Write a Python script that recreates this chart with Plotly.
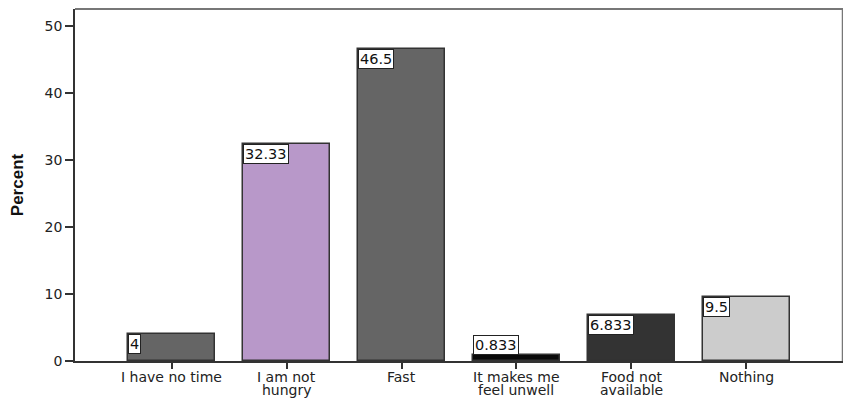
import plotly.graph_objects as go

categories = ["I have no time", "I am not<br>hungry", "Fast", "It makes me<br>feel unwell", "Food not<br>available", "Nothing"]
values = [4, 32.33, 46.5, 0.833, 6.833, 9.5]
labels = ["4", "32.33", "46.5", "0.833", "6.833", "9.5"]
colors = ["#656565", "#b898c9", "#656565", "#0a0a0a", "#333333", "#cccccc"]
y_ticks = [0, 10, 20, 30, 40, 50]

bar_width = 0.75
x_idx = list(range(len(categories)))

fig = go.Figure()
fig.add_trace(go.Bar(
    x=x_idx, y=values, width=bar_width,
    marker=dict(color=colors, line=dict(color="#333333", width=1.5)),
    hoverinfo="skip",
))

# value labels (white boxes at the top-left corner of each bar)
for i, (v, lab) in enumerate(zip(values, labels)):
    inside = v > 3
    fig.add_annotation(
        x=i - bar_width / 2, y=v, xref="x", yref="y",
        text=lab, showarrow=False,
        xanchor="left", yanchor="top" if inside else "bottom",
        bgcolor="white", bordercolor="#222222", borderwidth=1, borderpad=1,
        font=dict(family="DejaVu Sans", size=14.5, color="#111111"),
    )

# category labels with tight line spacing
for i, cat in enumerate(categories):
    for k, line in enumerate(cat.split("<br>")):
        fig.add_annotation(
            x=i, y=0, xref="x", yref="y", text=line, showarrow=False,
            xanchor="center", yanchor="top", yshift=-(7 + 12.5 * k),
            borderpad=0,
            font=dict(family="DejaVu Sans", size=14, color="#222222"),
        )

# gray top/right frame
fig.add_shape(type="line", xref="paper", yref="paper", x0=0, x1=1, y0=1, y1=1,
              line=dict(color="#777777", width=2))
fig.add_shape(type="line", xref="paper", yref="paper", x0=1, x1=1, y0=0, y1=1,
              line=dict(color="#777777", width=2.5))

fig.update_layout(
    width=843, height=393,
    margin=dict(l=67, r=8, t=1, b=40),
    paper_bgcolor="white", plot_bgcolor="white",
    showlegend=False,
    font=dict(family="DejaVu Sans", size=13, color="#222222"),
    xaxis=dict(
        range=[-0.84, 5.84], tickmode="array", tickvals=x_idx,
        showticklabels=False,
        showgrid=False, zeroline=False, showline=True, linecolor="#333333", linewidth=1.5,
        ticks="outside", ticklen=6, tickwidth=1.5, tickcolor="#333333",
        automargin=False,
    ),
    yaxis=dict(
        range=[0, 52.5], tickmode="array", tickvals=y_ticks,
        showgrid=False, zeroline=False, showline=True, linecolor="#333333", linewidth=1.5,
        ticks="outside", ticklen=8, tickwidth=1.5, tickcolor="#333333",
        tickfont=dict(family="DejaVu Sans", size=14, color="#222222"),
        title=dict(text="<b>Percent</b>", font=dict(family="Liberation Sans, Arial", size=17, color="#111111"), standoff=30),
        automargin=False,
    ),
    bargap=0,
)

fig.write_html("out.html")
